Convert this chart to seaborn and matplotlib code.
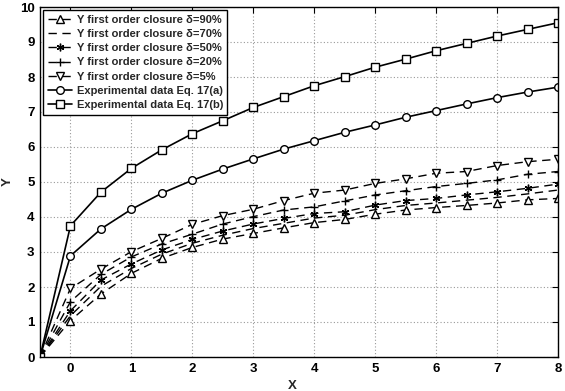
import matplotlib
matplotlib.use("Agg")
import matplotlib.pyplot as plt
import seaborn as sns
import numpy as np

x = [-0.5, 0, 0.5, 1, 1.5, 2, 2.5, 3, 3.5, 4, 4.5, 5, 5.5, 6, 6.5, 7, 7.5, 8]

y_d90 = [0, 1.04, 1.80, 2.39, 2.82, 3.13, 3.37, 3.53, 3.69, 3.84, 3.93, 4.08, 4.20, 4.27, 4.33, 4.40, 4.49, 4.53]
y_d70 = [0, 1.18, 2.02, 2.53, 2.94, 3.25, 3.48, 3.67, 3.82, 3.97, 4.05, 4.21, 4.33, 4.40, 4.48, 4.56, 4.66, 4.77]
y_d50 = [0, 1.32, 2.20, 2.66, 3.06, 3.36, 3.60, 3.80, 3.96, 4.10, 4.15, 4.34, 4.47, 4.53, 4.63, 4.72, 4.82, 4.94]
y_d20 = [0, 1.58, 2.36, 2.86, 3.23, 3.51, 3.80, 4.01, 4.20, 4.29, 4.46, 4.63, 4.75, 4.87, 4.96, 5.06, 5.22, 5.30]
y_d5 = [0, 1.96, 2.51, 3.01, 3.39, 3.79, 4.04, 4.22, 4.47, 4.68, 4.77, 4.96, 5.09, 5.25, 5.30, 5.47, 5.58, 5.65]
y_exp_a = [0, 2.89, 3.66, 4.22, 4.68, 5.05, 5.37, 5.66, 5.94, 6.18, 6.42, 6.63, 6.85, 7.04, 7.23, 7.41, 7.57, 7.71]
y_exp_b = [0, 3.75, 4.71, 5.39, 5.92, 6.38, 6.75, 7.13, 7.44, 7.75, 8.01, 8.28, 8.51, 8.75, 8.96, 9.17, 9.36, 9.55]

labels = ["Y first order closure \u03b4=90%", "Y first order closure \u03b4=70%",
          "Y first order closure \u03b4=50%", "Y first order closure \u03b4=20%",
          "Y first order closure \u03b4=5%", "Experimental data Eq. 17(a)",
          "Experimental data Eq. 17(b)"]
series = [y_d90, y_d70, y_d50, y_d20, y_d5, y_exp_a, y_exp_b]
markers = ["^", None, (6, 2, 0), "+", "v", "o", "s"]
dashed = [True, True, True, True, True, False, False]

sns.set_style("white")
plt.rcParams["font.family"] = ["Liberation Sans", "DejaVu Sans"]
plt.rcParams["font.weight"] = "bold"

fig = plt.figure(figsize=(5.65, 3.91), dpi=100)
ax = fig.add_axes([40 / 565, 1 - 357 / 391, 518 / 565, 350 / 391])

for ys, lab, mk, d in zip(series, labels, markers, dashed):
    kw = dict(color="black", linewidth=1.0, label=lab, ax=ax)
    if mk is not None:
        kw.update(marker=mk, markersize=5.5, markerfacecolor="white",
                  markeredgecolor="black", markeredgewidth=1.0)
    if d:
        kw.update(linestyle=(0, (6, 4)))
    else:
        kw.update(linestyle="-", linewidth=1.2)
    sns.lineplot(x=x, y=ys, **kw)

ax.set_xlim(-0.5, 8)
ax.set_ylim(0, 10)
ax.set_xticks(range(0, 9))
ax.set_yticks(range(0, 11))
ax.grid(True, color="#999999", linestyle=(0, (1, 2)), linewidth=0.8)
ax.tick_params(direction="in", top=True, right=True, length=4, labelsize=9.5,
               colors="black", pad=4)
for lab in ax.get_xticklabels() + ax.get_yticklabels():
    lab.set_fontweight("bold")
for s in ax.spines.values():
    s.set_color("black")
    s.set_linewidth(1.0)
ax.set_xlabel("X", fontsize=9.5, fontweight="bold")
ax.set_ylabel("Y", fontsize=9.5, fontweight="bold")
ax.xaxis.set_label_coords((292 - 40) / 518, (357 - 380) / 350)
ax.yaxis.set_label_coords((14 - 40) / 518, (357 - 182) / 350)

leg = ax.legend(loc="upper left", fontsize=8, frameon=True, fancybox=False,
                edgecolor="black", framealpha=1, borderaxespad=0.3,
                handlelength=2.2, handletextpad=0.4, labelspacing=0.38,
                borderpad=0.4)
leg.get_frame().set_linewidth(1.0)
for t in leg.get_texts():
    t.set_fontweight("bold")

fig.savefig("out.png", dpi=100)
